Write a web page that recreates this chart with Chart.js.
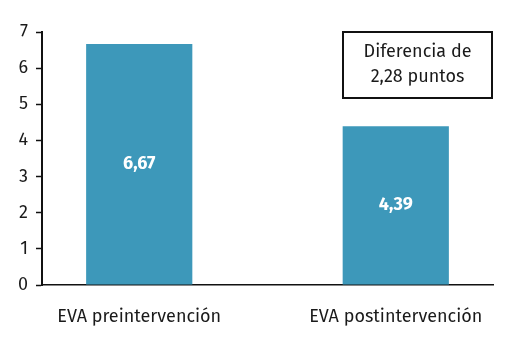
<!DOCTYPE html>
<html>
<head>
<meta charset="utf-8">
<script src="https://cdn.jsdelivr.net/npm/chart.js@4/dist/chart.umd.min.js"></script>
<style>
  html, body { margin: 0; padding: 0; background: #fff; }
  #wrap { width: 515px; height: 344px; }
</style>
</head>
<body>
<div id="wrap"><canvas id="eva-chart"></canvas></div>
<script>
  const categories = ['EVA preintervención', 'EVA postintervención'];
  const positions = [0, 1];
  const values = [6.67, 4.39];
  const valueLabels = ['6,67', '4,39'];
  const noteLines = ['Diferencia de', '2,28 puntos'];

  const barColor = '#3d98ba';
  const textColor = '#1a1a1a';
  const fontFamily = '"Fira Sans", "Noto Sans", "Open Sans", sans-serif';

  // white value text in the middle of each bar
  const barValues = {
    id: 'barValues',
    afterDatasetsDraw(chart) {
      const ctx = chart.ctx;
      const meta = chart.getDatasetMeta(0);
      ctx.save();
      ctx.fillStyle = '#fff';
      ctx.font = 'bold 18px ' + fontFamily;
      ctx.textAlign = 'center';
      ctx.textBaseline = 'middle';
      meta.data.forEach((bar, i) => {
        const mid = (bar.y + bar.base) / 2;
        ctx.fillText(valueLabels[i], bar.x, mid);
      });
      ctx.restore();
    }
  };

  // boxed note in the upper right corner of the plot
  const noteBox = {
    id: 'noteBox',
    afterDraw(chart) {
      const ctx = chart.ctx;
      const area = chart.chartArea;
      const w = 149, h = 66;
      const x = area.right - w - 1;
      const y = area.top;
      ctx.save();
      ctx.fillStyle = '#fff';
      ctx.fillRect(x, y, w, h);
      ctx.strokeStyle = '#111';
      ctx.lineWidth = 2;
      ctx.strokeRect(x, y, w, h);
      ctx.fillStyle = textColor;
      ctx.font = '18px ' + fontFamily;
      ctx.textAlign = 'center';
      ctx.textBaseline = 'middle';
      ctx.fillText(noteLines[0], x + w / 2, y + 20);
      ctx.fillText(noteLines[1], x + w / 2, y + 45);
      ctx.restore();
    }
  };

  new Chart(document.getElementById('eva-chart'), {
    type: 'bar',
    data: {
      datasets: [{
        data: positions.map((p, i) => ({ x: p, y: values[i] })),
        backgroundColor: barColor,
        borderWidth: 0,
        barPercentage: 0.414,
        categoryPercentage: 1,
      }],
    },
    options: {
      responsive: true,
      maintainAspectRatio: false,
      animation: false,
      layout: { padding: { left: 0, right: 22, top: 32, bottom: 0 } },
      plugins: { legend: { display: false }, tooltip: { enabled: false } },
      scales: {
        x: {
          type: 'linear',
          offset: false,
          min: -0.379,
          max: 1.379,
          afterBuildTicks: axis => { axis.ticks = positions.map(v => ({ value: v })); },
          afterFit: axis => { axis.height = 59; },
          grid: { display: false, drawTicks: false },
          border: { color: '#111', width: 1.5 },
          ticks: {
            padding: 21,
            maxRotation: 0,
            color: textColor,
            font: { family: fontFamily, size: 18 },
            callback: v => categories[v],
          },
        },
        y: {
          min: 0,
          max: 7,
          afterFit: axis => { axis.width = 42; },
          grid: { drawOnChartArea: false, drawTicks: true, tickLength: 6, color: '#111', tickWidth: 1.5 },
          border: { color: '#111', width: 2 },
          ticks: {
            stepSize: 1,
            padding: 8,
            color: textColor,
            font: { family: fontFamily, size: 18 },
          },
        },
      },
    },
    plugins: [barValues, noteBox],
  });
</script>
</body>
</html>
